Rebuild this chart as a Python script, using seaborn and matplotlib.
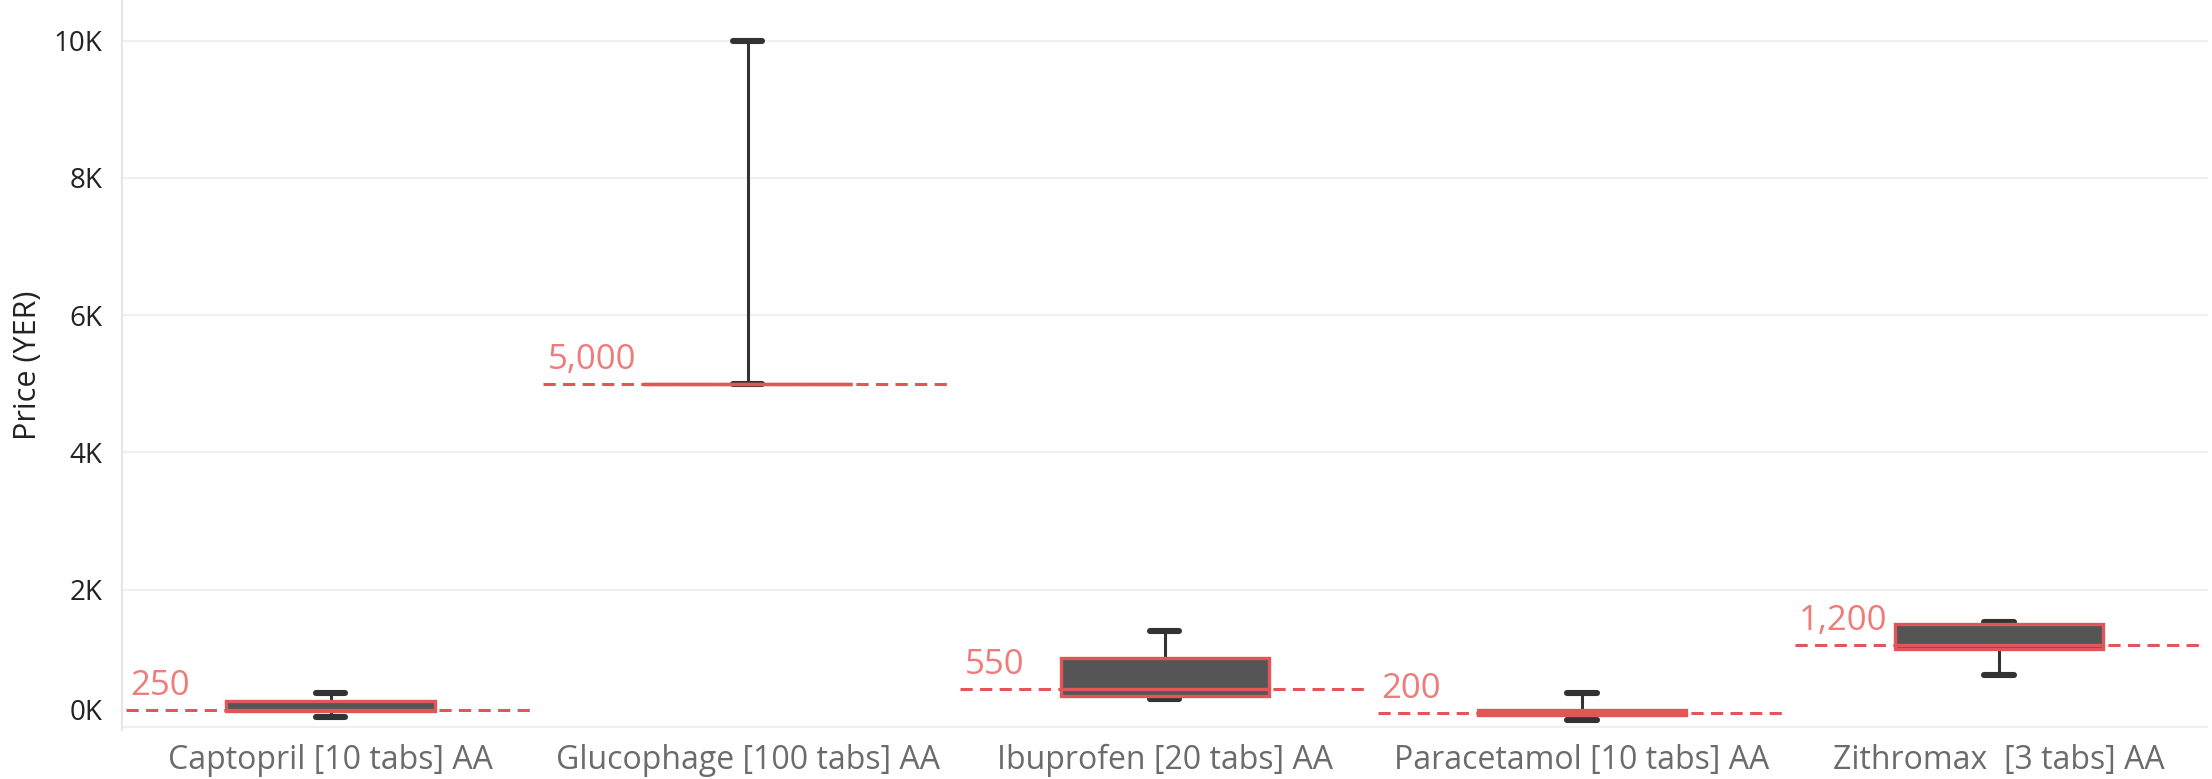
import numpy as np
import pandas as pd
import seaborn as sns
import matplotlib.pyplot as plt
from matplotlib.ticker import FuncFormatter

# five-number summaries (YER)
drugs = ["Captopril [10 tabs] AA", "Glucophage [100 tabs] AA", "Ibuprofen [20 tabs] AA",
         "Paracetamol [10 tabs] AA", "Zithromax  [3 tabs] AA"]
whisker_low = [150, 5000, 400, 100, 750]
q1 = [230, 5000, 450, 175, 1130]
median = [250, 5000, 550, 200, 1200]
q3 = [375, 5000, 1000, 250, 1500]
whisker_high = [500, 10000, 1400, 500, 1530]
ref_lines = [250, 5000, 550, 200, 1200]

rows = []
for i, d in enumerate(drugs):
    for v in [whisker_low[i], q1[i], median[i], q3[i], whisker_high[i]]:
        rows.append({"drug": d, "price": v})
df = pd.DataFrame(rows)

sns.set_theme(style="white")
plt.rcParams['font.family'] = ['Open Sans', 'DejaVu Sans']

RED = "#e15759"
fig = plt.figure(figsize=(22.12, 7.79), dpi=100)
ax = fig.add_axes([0.0552, 0.063, 0.9428, 0.937])

sns.boxplot(data=df, x="drug", y="price", order=drugs, ax=ax, whis=(0, 100), width=0.5,
            showfliers=False, capwidths=0.07,
            boxprops=dict(facecolor="#555555", edgecolor=RED, linewidth=2.4, zorder=3),
            medianprops=dict(color=RED, linewidth=2.4, zorder=4),
            whiskerprops=dict(color="#333333", linewidth=2.2, zorder=2),
            capprops=dict(color="#333333", linewidth=4.4, zorder=2))

# reference lines per pane with labels
for i, v in enumerate(ref_lines):
    ax.hlines(v, i - 0.49, i + 0.49, color=RED, linestyle=(0, (4, 2.4)), linewidth=2.2, zorder=1)
    ax.annotate(f"{v:,}", xy=(i - 0.48, v), xytext=(0, 5), textcoords="offset points",
                color="#ef7b7b", fontsize=25, va="bottom", ha="left")

ax.set_xlim(-0.5, 4.5)
ax.set_ylim(-44, 10593)
ax.set_yticks([0, 2000, 4000, 6000, 8000, 10000])
ax.yaxis.set_major_formatter(FuncFormatter(lambda v, p: f"{v/1000:.0f}K"))
ax.grid(axis="y", color="#f0f0f0", linewidth=1.5)
ax.set_axisbelow(True)

for s in ["top", "right", "bottom"]:
    ax.spines[s].set_visible(False)
ax.spines["left"].set_color("#e6e6e6")
ax.spines["left"].set_linewidth(1.5)

ax.tick_params(axis="y", length=0, pad=14, labelsize=20, labelcolor="#222222")
ax.tick_params(axis="x", which="major", length=0, pad=10, labelsize=23, labelcolor="#6b6b6b")
ax.set_xticks([0.5, 1.5, 2.5, 3.5, 4.5], minor=True)
ax.tick_params(axis="x", which="minor", length=50, width=1.2, color="#ececec", direction="out")

# the 0K label sits just above the baseline like in the original
ax.get_yticklabels()[0].set_verticalalignment("bottom")

ax.set_xlabel("")
ax.set_ylabel("Price (YER)", fontsize=22, color="#222222", labelpad=8)

fig.savefig("out.png", dpi=100)
